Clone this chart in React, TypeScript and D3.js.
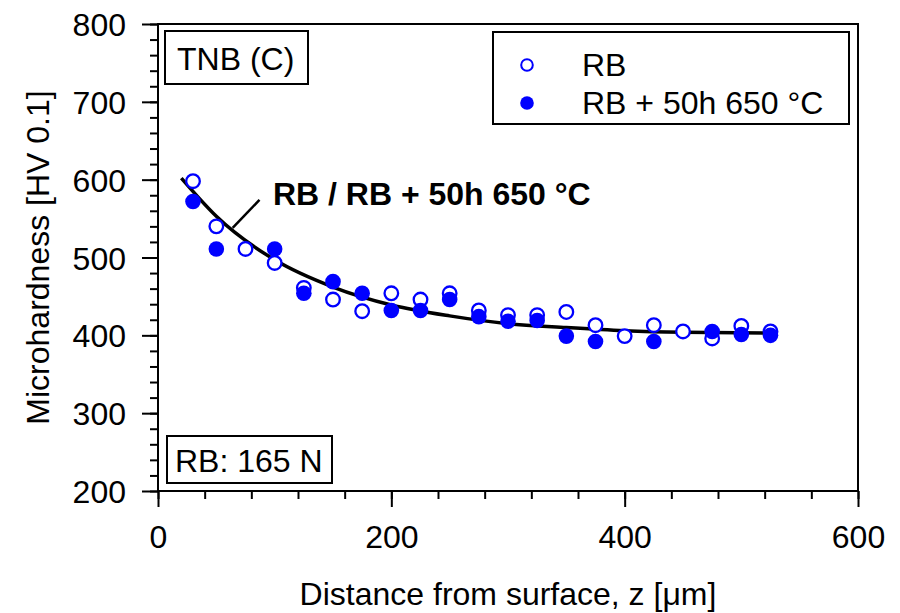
import React, {useRef, useEffect} from 'react'
import * as d3 from 'd3'

// distance from surface [um]
const rbDepth = [30, 50, 75, 100, 125, 150, 175, 200, 225, 250, 275, 300, 325, 350, 375, 400, 425, 450, 475, 500, 525]
const rbHardness = [598, 540, 511, 493, 461, 446, 431, 454, 446, 454, 432, 426, 426, 430, 413, 399, 413, 405, 396, 412, 405]

const annealDepth = [30, 50, 100, 125, 150, 175, 200, 225, 250, 275, 300, 325, 350, 375, 425, 475, 500, 525]
const annealHardness = [572, 511, 511, 454, 469, 454, 432, 432, 446, 424, 418, 419, 399, 392, 392, 405, 401, 400]

// fit curve
const fitDepth = [20, 50, 100, 150, 200, 250, 300, 350, 400, 450, 530]
const fitHardness = [602, 553, 497, 462, 439, 425, 415, 410, 406, 404, 403]

const xTicks = [0, 200, 400, 600]
const yTicks = [200, 300, 400, 500, 600, 700, 800]

const legendLabels = ['RB', 'RB + 50h 650 °C']

const W = 900
const H = 613
const FONT = '"Liberation Sans", Arial, sans-serif'
const FS = 32
const BLUE = '#0000ff'

export default function App() {
  const ref = useRef(null)

  useEffect(() => {
    const svg = d3.select(ref.current)
    svg.selectAll('*').remove()

    const x = d3.scaleLinear().domain([0, 600]).range([158, 858])
    const y = d3.scaleLinear().domain([200, 800]).range([491, 24])

    const g = svg.append('g')

    // frame
    g.append('rect')
      .attr('x', x(0))
      .attr('y', y(800))
      .attr('width', x(600) - x(0))
      .attr('height', y(200) - y(800))
      .attr('fill', 'none')
      .attr('stroke', '#000')
      .attr('stroke-width', 2)

    // x axis
    const xAxis = g.append('g').attr('transform', `translate(0,${y(200)})`)
    xAxis.append('g')
      .call(d3.axisBottom(x).tickValues(d3.range(0, 601, 40)).tickSize(8).tickFormat(() => ''))
      .call(s => s.select('.domain').remove())
      .call(s => s.selectAll('line').attr('stroke-width', 2))
    xAxis.append('g')
      .call(d3.axisBottom(x).tickValues(xTicks).tickSize(16).tickFormat(d3.format('d')))
      .call(s => s.select('.domain').remove())
      .call(s => s.selectAll('line').attr('stroke-width', 2))
      .call(s => s.selectAll('text')
        .attr('font-size', FS)
        .attr('font-family', FONT)
        .attr('fill', '#000')
        .attr('y', 57)
        .attr('dy', 0))

    // y axis
    const yAxis = g.append('g').attr('transform', `translate(${x(0)},0)`)
    yAxis.append('g')
      .call(d3.axisLeft(y).tickValues(d3.range(200, 801, 20)).tickSize(8).tickFormat(() => ''))
      .call(s => s.select('.domain').remove())
      .call(s => s.selectAll('line').attr('stroke-width', 2))
    yAxis.append('g')
      .call(d3.axisLeft(y).tickValues(yTicks).tickSize(16).tickFormat(d3.format('d')))
      .call(s => s.select('.domain').remove())
      .call(s => s.selectAll('line').attr('stroke-width', 2))
      .call(s => s.selectAll('text')
        .attr('font-size', FS)
        .attr('font-family', FONT)
        .attr('fill', '#000')
        .attr('x', -32)
        .attr('dy', '0.36em'))

    // axis titles
    g.append('text')
      .attr('x', (x(0) + x(600)) / 2)
      .attr('y', 605)
      .attr('text-anchor', 'middle')
      .attr('font-size', FS)
      .attr('font-family', FONT)
      .text('Distance from surface, z [μm]')

    g.append('text')
      .attr('transform', `translate(49,${(y(200) + y(800)) / 2}) rotate(-90)`)
      .attr('text-anchor', 'middle')
      .attr('font-size', FS)
      .attr('font-family', FONT)
      .text('Microhardness [HV 0.1]')

    // fit curve
    const line = d3.line()
      .x(d => x(d[0]))
      .y(d => y(d[1]))
      .curve(d3.curveMonotoneX)
    g.append('path')
      .datum(d3.zip(fitDepth, fitHardness))
      .attr('d', line)
      .attr('fill', 'none')
      .attr('stroke', '#000')
      .attr('stroke-width', 3.5)

    // open markers (RB)
    g.append('g')
      .selectAll('circle')
      .data(d3.zip(rbDepth, rbHardness))
      .join('circle')
      .attr('cx', d => x(d[0]))
      .attr('cy', d => y(d[1]))
      .attr('r', 6.8)
      .attr('fill', '#fff')
      .attr('stroke', BLUE)
      .attr('stroke-width', 2.3)

    // filled markers (RB + 50h 650 C)
    g.append('g')
      .selectAll('circle')
      .data(d3.zip(annealDepth, annealHardness))
      .join('circle')
      .attr('cx', d => x(d[0]))
      .attr('cy', d => y(d[1]))
      .attr('r', 7.8)
      .attr('fill', BLUE)

    // annotation
    g.append('line')
      .attr('x1', x(64))
      .attr('y1', y(538))
      .attr('x2', x(87))
      .attr('y2', y(574))
      .attr('stroke', '#000')
      .attr('stroke-width', 2.5)
    g.append('text')
      .attr('x', x(98.5))
      .attr('y', y(567))
      .attr('font-size', FS)
      .attr('font-weight', 'bold')
      .attr('font-family', FONT)
      .text('RB / RB + 50h 650 °C')

    // TNB (C) box
    g.append('rect')
      .attr('x', 165).attr('y', 31).attr('width', 143).attr('height', 53)
      .attr('fill', '#fff').attr('stroke', '#000').attr('stroke-width', 2)
    g.append('text')
      .attr('x', 177).attr('y', 70)
      .attr('font-size', FS).attr('font-family', FONT)
      .text('TNB (C)')

    // RB: 165 N box
    g.append('rect')
      .attr('x', 167).attr('y', 436).attr('width', 165).attr('height', 47)
      .attr('fill', '#fff').attr('stroke', '#000').attr('stroke-width', 2)
    g.append('text')
      .attr('x', 175).attr('y', 472)
      .attr('font-size', FS).attr('font-family', FONT)
      .text('RB: 165 N')

    // legend
    const lg = g.append('g')
    lg.append('rect')
      .attr('x', 493).attr('y', 32).attr('width', 356).attr('height', 92)
      .attr('fill', '#fff').attr('stroke', '#000').attr('stroke-width', 2)
    lg.append('circle')
      .attr('cx', 527).attr('cy', 65).attr('r', 5.8)
      .attr('fill', '#fff').attr('stroke', BLUE).attr('stroke-width', 2)
    lg.append('circle')
      .attr('cx', 527).attr('cy', 103).attr('r', 6.8)
      .attr('fill', BLUE)
    lg.selectAll('text')
      .data(legendLabels)
      .join('text')
      .attr('x', 582)
      .attr('y', (d, i) => 76 + i * 38)
      .attr('font-size', FS)
      .attr('font-family', FONT)
      .text(d => d)
  }, [])

  return (
    <svg
      ref={ref}
      width={W}
      height={H}
      style={{position: 'absolute', left: 0, top: 0, background: '#fff'}}
    />
  )
}
